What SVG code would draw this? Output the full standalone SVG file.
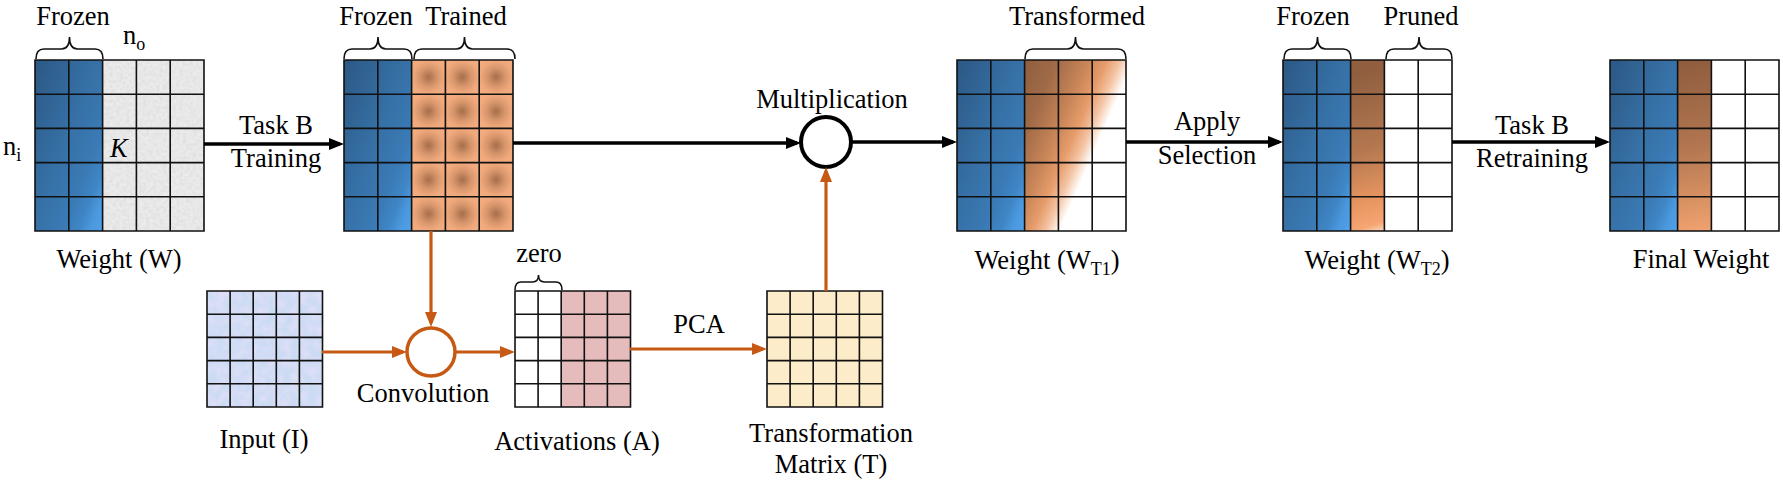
<svg xmlns="http://www.w3.org/2000/svg" width="1783" height="487" viewBox="0 0 1783 487" font-family="'Liberation Serif', 'DejaVu Serif', serif">
<style>
text{font-family:'Liberation Serif','DejaVu Serif',serif;font-size:26.5px;fill:#000;}
.c{text-anchor:middle;}
.grid{fill:none;stroke:#111;stroke-width:1.6;}
.brace{fill:none;stroke:#111;stroke-width:1.6;}
.blk{fill:none;stroke:#000;stroke-width:3.5;}
.org{fill:none;stroke:#C65A14;stroke-width:3.2;}
</style>
<defs>
<marker id="ab" markerUnits="userSpaceOnUse" markerWidth="16" markerHeight="14" viewBox="0 0 16 14" refX="11" refY="7" orient="auto"><path d="M0,1 L15,7 L0,13 z" fill="#000"/></marker>
<marker id="ao" markerUnits="userSpaceOnUse" markerWidth="16" markerHeight="14" viewBox="0 0 16 14" refX="11" refY="7" orient="auto"><path d="M0,1 L15,7 L0,13 z" fill="#C65A14"/></marker>
<filter id="grayNoise" x="0" y="0" width="100%" height="100%">
<feTurbulence type="fractalNoise" baseFrequency="0.3" numOctaves="2" seed="4"/>
<feColorMatrix type="matrix" values="0 0 0 0 0.55  0 0 0 0 0.55  0 0 0 0 0.55  0 0 0 0.6 -0.2"/>
<feComposite in2="SourceGraphic" operator="in"/>
</filter>
<filter id="pinkNoise" x="0" y="0" width="100%" height="100%">
<feTurbulence type="fractalNoise" baseFrequency="0.12" numOctaves="2" seed="9"/>
<feColorMatrix type="matrix" values="0 0 0 0 0.92  0 0 0 0 0.78  0 0 0 0 0.95  0 0 0 0.9 -0.3"/>
<feComposite in2="SourceGraphic" operator="in"/>
</filter>
<linearGradient id="blue" x1="0" y1="0" x2="1" y2="1">
<stop offset="0" stop-color="#2C5884"/><stop offset="0.45" stop-color="#3670A5"/><stop offset="0.7" stop-color="#3A7AB5"/><stop offset="0.82" stop-color="#3F86C6"/><stop offset="0.9" stop-color="#4A98DE"/><stop offset="1" stop-color="#52A2EA"/>
</linearGradient>
<radialGradient id="rg" cx="0.5" cy="0.5" r="0.6">
<stop offset="0" stop-color="#A66E4A"/><stop offset="0.45" stop-color="#D8966C"/><stop offset="0.8" stop-color="#F0A97C"/><stop offset="1" stop-color="#F2AC7E"/>
</radialGradient>
<pattern id="orangeCells" x="411.6" y="60" width="33.8" height="34.2" patternUnits="userSpaceOnUse"><rect width="33.8" height="34.2" fill="url(#rg)"/></pattern>
<linearGradient id="trans" gradientUnits="userSpaceOnUse" x1="1000" y1="90" x2="1105" y2="136">
<stop offset="0" stop-color="#8A5A3C"/><stop offset="0.35" stop-color="#A06A47"/><stop offset="0.6" stop-color="#C98658"/><stop offset="0.75" stop-color="#E79C6B"/><stop offset="0.86" stop-color="#F4C4A4"/><stop offset="0.97" stop-color="#FFFFFF"/>
</linearGradient>
<linearGradient id="pr" gradientUnits="userSpaceOnUse" x1="1345" y1="80" x2="1395" y2="235">
<stop offset="0" stop-color="#915F40"/><stop offset="0.45" stop-color="#B47850"/><stop offset="0.75" stop-color="#E8955F"/><stop offset="0.9" stop-color="#F6A673"/><stop offset="1" stop-color="#FFFFFF"/>
</linearGradient>
<linearGradient id="fin" gradientUnits="userSpaceOnUse" x1="1675" y1="60" x2="1705" y2="235">
<stop offset="0" stop-color="#8E5C3E"/><stop offset="0.5" stop-color="#B27650"/><stop offset="1" stop-color="#F3A470"/>
</linearGradient>
<path id="bigGrid" class="grid" d="M0 0H169V171H0Z M33.8 0V171 M67.6 0V171 M101.4 0V171 M135.2 0V171 M0 34.2H169 M0 68.4H169 M0 102.6H169 M0 136.8H169"/>
<path id="smallGrid" class="grid" d="M0 0H115.5V116H0Z M23.1 0V116 M46.2 0V116 M69.3 0V116 M92.4 0V116 M0 23.2H115.5 M0 46.4H115.5 M0 69.6H115.5 M0 92.8H115.5"/>
</defs>
<rect width="1783" height="487" fill="#fff"/>

<g id="weight-w">
<rect x="35" y="60" width="67.6" height="171" fill="url(#blue)"/>
<rect x="102.6" y="60" width="101.4" height="171" fill="#EBEBEB"/>
<rect x="102.6" y="60" width="101.4" height="171" fill="#fff" filter="url(#grayNoise)"/>
<use href="#bigGrid" x="35" y="60"/>
<path class="brace" d="M36 59 Q36 49 44 49 H61.5 Q69.5 49 69.5 37 Q69.5 49 77.5 49 H95 Q103 49 103 59"/>
<text class="c" x="73" y="25">Frozen</text>
<text x="123" y="44">n<tspan font-size="18" dy="6">o</tspan></text>
<text x="3" y="155">n<tspan font-size="18" dy="6">i</tspan></text>
<text x="110" y="157" font-style="italic">K</text>
<text class="c" x="119" y="268">Weight (W)</text>
</g>

<g id="weight-trained">
<rect x="344" y="60" width="67.6" height="171" fill="url(#blue)"/>
<rect x="411.6" y="60" width="101.4" height="171" fill="url(#orangeCells)"/>
<use href="#bigGrid" x="344" y="60"/>
<path class="brace" d="M344 59 Q344 49 352 49 H370 Q378 49 378 37 Q378 49 386 49 H404 Q412 49 412 59"/>
<path class="brace" d="M414 59 Q414 49 422 49 H456.5 Q464.5 49 464.5 37 Q464.5 49 472.5 49 H507 Q515 49 515 59"/>
<text class="c" x="376" y="25">Frozen</text>
<text class="c" x="466" y="25">Trained</text>
</g>

<g id="input">
<rect x="207" y="291" width="115.5" height="116" fill="#CCDBF4"/>
<rect x="207" y="291" width="115.5" height="116" fill="#fff" filter="url(#pinkNoise)"/>
<use href="#smallGrid" x="207" y="291"/>
<text class="c" x="264" y="448">Input (I)</text>
</g>

<g id="convolution">
<circle cx="431" cy="352" r="24" fill="#fff" stroke="#C65A14" stroke-width="3.5"/>
<text class="c" x="423" y="402">Convolution</text>
</g>

<g id="activations">
<rect x="515" y="291" width="46.2" height="116" fill="#fff"/>
<rect x="561.2" y="291" width="69.3" height="116" fill="#E6BBBB"/>
<use href="#smallGrid" x="515" y="291"/>
<path class="brace" d="M515 290 Q515 282 521 282 H532.5 Q538.5 282 538.5 275 Q538.5 282 544.5 282 H556 Q562 282 562 290"/>
<text class="c" x="539" y="262">zero</text>
<text class="c" x="577" y="450">Activations (A)</text>
</g>

<g id="transformation-matrix">
<rect x="767" y="291" width="115.5" height="116" fill="#FDECC9"/>
<use href="#smallGrid" x="767" y="291"/>
<text class="c" x="831" y="442">Transformation</text>
<text class="c" x="831" y="473">Matrix (T)</text>
</g>

<g id="multiplication">
<circle cx="826" cy="142" r="25" fill="#fff" stroke="#000" stroke-width="4"/>
<text class="c" x="832" y="108">Multiplication</text>
</g>

<g id="weight-t1">
<rect x="957" y="60" width="67.6" height="171" fill="url(#blue)"/>
<rect x="1024.6" y="60" width="101.4" height="171" fill="url(#trans)"/>
<use href="#bigGrid" x="957" y="60"/>
<path class="brace" d="M1025 59 Q1025 49 1033 49 H1067.5 Q1075.5 49 1075.5 37 Q1075.5 49 1083.5 49 H1118 Q1126 49 1126 59"/>
<text class="c" x="1077" y="25">Transformed</text>
<text class="c" x="1047" y="269">Weight (W<tspan font-size="18" dy="6">T1</tspan><tspan dy="-6">)</tspan></text>
</g>

<g id="weight-t2">
<rect x="1283" y="60" width="67.6" height="171" fill="url(#blue)"/>
<rect x="1350.6" y="60" width="33.8" height="171" fill="url(#pr)"/>
<rect x="1384.4" y="60" width="67.6" height="171" fill="#fff"/>
<use href="#bigGrid" x="1283" y="60"/>
<path class="brace" d="M1284 59 Q1284 49 1292 49 H1309.5 Q1317.5 49 1317.5 37 Q1317.5 49 1325.5 49 H1343 Q1351 49 1351 59"/>
<path class="brace" d="M1386 59 Q1386 49 1394 49 H1411 Q1419 49 1419 37 Q1419 49 1427 49 H1444 Q1452 49 1452 59"/>
<text class="c" x="1313" y="25">Frozen</text>
<text class="c" x="1421" y="25">Pruned</text>
<text class="c" x="1377" y="269">Weight (W<tspan font-size="18" dy="6">T2</tspan><tspan dy="-6">)</tspan></text>
</g>

<g id="final-weight">
<rect x="1610" y="60" width="67.6" height="171" fill="url(#blue)"/>
<rect x="1677.6" y="60" width="33.8" height="171" fill="url(#fin)"/>
<rect x="1711.4" y="60" width="67.6" height="171" fill="#fff"/>
<use href="#bigGrid" x="1610" y="60"/>
<text class="c" x="1701" y="268">Final Weight</text>
</g>

<g id="connectors">
<path class="blk" d="M204 144 H340" marker-end="url(#ab)"/>
<path class="blk" d="M513 143 H797" marker-end="url(#ab)"/>
<path class="blk" d="M851 142 H953" marker-end="url(#ab)"/>
<path class="blk" d="M1126 142 H1279" marker-end="url(#ab)"/>
<path class="blk" d="M1452 142 H1606" marker-end="url(#ab)"/>
<path class="org" d="M431 231 V323" marker-end="url(#ao)"/>
<path class="org" d="M322 352 H403" marker-end="url(#ao)"/>
<path class="org" d="M455 352 H511" marker-end="url(#ao)"/>
<path class="org" d="M630 349 H763" marker-end="url(#ao)"/>
<path class="org" d="M826 291 V171" marker-end="url(#ao)"/>
<text class="c" x="276" y="134">Task B</text>
<text class="c" x="276" y="167">Training</text>
<text class="c" x="699" y="333">PCA</text>
<text class="c" x="1207" y="130">Apply</text>
<text class="c" x="1207" y="164">Selection</text>
<text class="c" x="1532" y="134">Task B</text>
<text class="c" x="1532" y="167">Retraining</text>
</g>
</svg>
